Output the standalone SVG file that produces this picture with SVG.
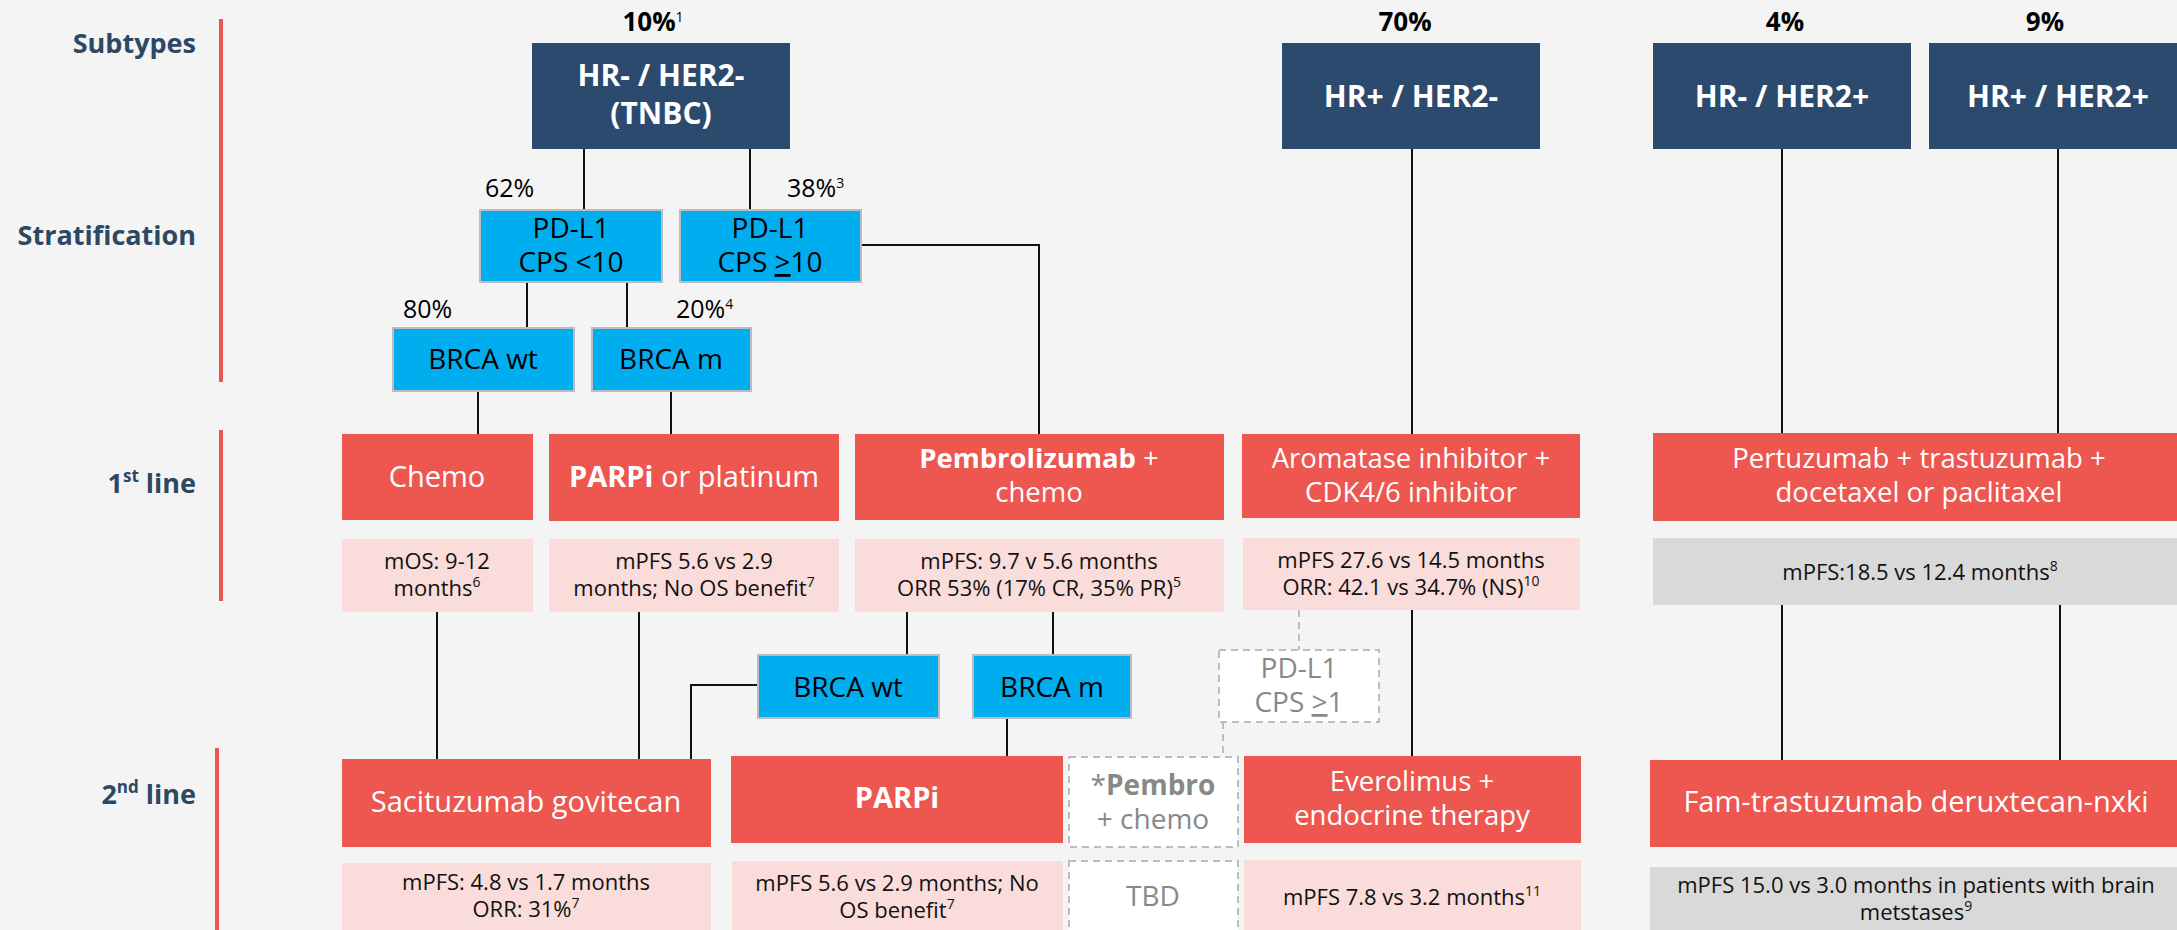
<svg xmlns="http://www.w3.org/2000/svg" width="2177" height="930" viewBox="0 0 2177 930">
<style>
text{font-family:"Open Sans","Noto Sans","Liberation Sans",sans-serif;text-anchor:middle}
.lbl{font-size:27px;font-weight:700;fill:#2c4863;text-anchor:end}
.bar{stroke:#ec5650;stroke-width:4}
.pct{font-size:26px;font-weight:700;fill:#000}
.spct{font-size:25px;fill:#000;text-anchor:start}
.navy{fill:#2b4a6e}
.navyt{font-size:30px;font-weight:700;fill:#fff}
.cyan{fill:#00aeef;stroke:#bcbcbc;stroke-width:2}
.cyant{font-size:28px;fill:#000}
.coral{fill:#ee5650}
.coralt{font-size:29px;fill:#fff}
.coral2{font-size:27.5px;fill:#fff}
.pink{fill:#fadcda}
.grey{fill:#d9d9d9}
.smt{font-size:22px;fill:#111}
.dash{fill:#fff;stroke:#bdbdbd;stroke-width:2;stroke-dasharray:7 5}
.dasht{font-size:28px;fill:#888}
.con{stroke:#111;stroke-width:2;fill:none}
.dcon{stroke:#bdbdbd;stroke-width:2;fill:none;stroke-dasharray:7 5}
.b{font-weight:700}
.sup{font-size:14px}
</style>
<rect width="2177" height="930" fill="#f4f4f4"/>

<g id="row-labels">
  <line class="bar" x1="221" y1="19" x2="221" y2="250"/>
  <text class="lbl" x="196" y="53">Subtypes</text>
  <line class="bar" x1="221" y1="217" x2="221" y2="382"/>
  <text class="lbl" x="196" y="245">Stratification</text>
  <line class="bar" x1="221" y1="430" x2="221" y2="601"/>
  <text class="lbl" x="196" y="493">1<tspan font-size="17" baseline-shift="super">st</tspan> line</text>
  <line class="bar" x1="217" y1="748" x2="217" y2="935"/>
  <text class="lbl" x="196" y="804">2<tspan font-size="17" baseline-shift="super">nd</tspan> line</text>
</g>

<g id="connectors">
  <line class="con" x1="584" y1="149" x2="584" y2="210"/>
  <line class="con" x1="750" y1="149" x2="750" y2="210"/>
  <line class="con" x1="527" y1="282" x2="527" y2="328"/>
  <line class="con" x1="627" y1="282" x2="627" y2="328"/>
  <line class="con" x1="478" y1="391" x2="478" y2="434"/>
  <line class="con" x1="671" y1="391" x2="671" y2="434"/>
  <path class="con" d="M861 245 H1039 V434"/>
  <line class="con" x1="1412" y1="149" x2="1412" y2="434"/>
  <line class="con" x1="1782" y1="149" x2="1782" y2="433"/>
  <line class="con" x1="2058" y1="149" x2="2058" y2="433"/>
  <line class="con" x1="437" y1="612" x2="437" y2="759"/>
  <line class="con" x1="639" y1="612" x2="639" y2="759"/>
  <path class="con" d="M758 685 H691 V759"/>
  <line class="con" x1="907" y1="612" x2="907" y2="655"/>
  <line class="con" x1="1053" y1="612" x2="1053" y2="655"/>
  <line class="con" x1="1007" y1="718" x2="1007" y2="756"/>
  <line class="con" x1="1412" y1="610" x2="1412" y2="756"/>
  <line class="dcon" x1="1299" y1="610" x2="1299" y2="650"/>
  <line class="dcon" x1="1223" y1="722" x2="1223" y2="757"/>
  <line class="con" x1="1782" y1="605" x2="1782" y2="760"/>
  <line class="con" x1="2060" y1="605" x2="2060" y2="760"/>
</g>

<g id="pct-labels">
  <text class="pct" x="653" y="31">10%<tspan class="sup" baseline-shift="super" font-weight="400">1</tspan></text>
  <text class="pct" x="1405" y="31">70%</text>
  <text class="pct" x="1785" y="31">4%</text>
  <text class="pct" x="2045" y="31">9%</text>
  <text class="spct" x="485" y="197">62%</text>
  <text class="spct" x="787" y="197">38%<tspan class="sup" baseline-shift="super">3</tspan></text>
  <text class="spct" x="403" y="318">80%</text>
  <text class="spct" x="676" y="318">20%<tspan class="sup" baseline-shift="super">4</tspan></text>
</g>

<g id="tnbc"><rect class="navy" x="532" y="43" width="258" height="106"/>
  <text class="navyt" x="661" y="86">HR- / HER2-<tspan x="661" dy="37.5">(TNBC)</tspan></text></g>
<g id="hrp-her2n"><rect class="navy" x="1282" y="43" width="258" height="106"/>
  <text class="navyt" x="1411" y="107">HR+ / HER2-</text></g>
<g id="hrn-her2p"><rect class="navy" x="1653" y="43" width="258" height="106"/>
  <text class="navyt" x="1782" y="107">HR- / HER2+</text></g>
<g id="hrp-her2p"><rect class="navy" x="1929" y="43" width="258" height="106"/>
  <text class="navyt" x="2058" y="107">HR+ / HER2+</text></g>

<g id="cps-lt10"><rect class="cyan" x="480" y="210" width="182" height="72"/>
  <text class="cyant" x="571" y="238">PD-L1<tspan x="571" dy="34">CPS &lt;10</tspan></text></g>
<g id="cps-ge10"><rect class="cyan" x="680" y="210" width="181" height="72"/>
  <text class="cyant" x="770" y="238">PD-L1<tspan x="770" dy="34">CPS </tspan><tspan text-decoration="underline">&gt;</tspan>10</text></g>
<g id="brca-wt"><rect class="cyan" x="393" y="328" width="181" height="63"/>
  <text class="cyant" x="483" y="369">BRCA wt</text></g>
<g id="brca-m"><rect class="cyan" x="592" y="328" width="159" height="63"/>
  <text class="cyant" x="671" y="369">BRCA m</text></g>

<g id="chemo"><rect class="coral" x="342" y="434" width="191" height="86"/>
  <text class="coralt" x="437" y="487">Chemo</text></g>
<g id="parpi-plat"><rect class="coral" x="549" y="434" width="290" height="87"/>
  <text class="coralt" x="694" y="487"><tspan class="b">PARPi</tspan> or platinum</text></g>
<g id="pembro-chemo"><rect class="coral" x="855" y="434" width="369" height="86"/>
  <text class="coral2" x="1039" y="468"><tspan class="b">Pembrolizumab</tspan> +<tspan x="1039" dy="33.5">chemo</tspan></text></g>
<g id="ai-cdk"><rect class="coral" x="1242" y="434" width="338" height="84"/>
  <text class="coral2" x="1411" y="468">Aromatase inhibitor +<tspan x="1411" dy="33.5">CDK4/6 inhibitor</tspan></text></g>
<g id="pertuzumab"><rect class="coral" x="1653" y="433" width="534" height="88"/>
  <text class="coral2" x="1919" y="468">Pertuzumab + trastuzumab +<tspan x="1919" dy="33.5">docetaxel or paclitaxel</tspan></text></g>

<g id="res-chemo"><rect class="pink" x="342" y="539" width="191" height="73"/>
  <text class="smt" x="437" y="569">mOS: 9-12<tspan x="437" dy="27">months</tspan><tspan class="sup" baseline-shift="super">6</tspan></text></g>
<g id="res-parpi"><rect class="pink" x="549" y="539" width="290" height="73"/>
  <text class="smt" x="694" y="569">mPFS 5.6 vs 2.9<tspan x="694" dy="27">months; No OS benefit</tspan><tspan class="sup" baseline-shift="super">7</tspan></text></g>
<g id="res-pembro"><rect class="pink" x="855" y="539" width="369" height="73"/>
  <text class="smt" x="1039" y="569">mPFS: 9.7 v 5.6 months<tspan x="1039" dy="27">ORR 53% (17% CR, 35% PR)</tspan><tspan class="sup" baseline-shift="super">5</tspan></text></g>
<g id="res-ai"><rect class="pink" x="1243" y="538" width="337" height="72"/>
  <text class="smt" x="1411" y="568">mPFS 27.6 vs 14.5 months<tspan x="1411" dy="27">ORR: 42.1 vs 34.7% (NS)</tspan><tspan class="sup" baseline-shift="super">10</tspan></text></g>
<g id="res-pertuzumab"><rect class="grey" x="1653" y="538" width="534" height="67"/>
  <text class="smt" x="1920" y="580">mPFS:18.5 vs 12.4 months<tspan class="sup" baseline-shift="super">8</tspan></text></g>

<g id="brca-wt-2"><rect class="cyan" x="758" y="655" width="181" height="63"/>
  <text class="cyant" x="848" y="697">BRCA wt</text></g>
<g id="brca-m-2"><rect class="cyan" x="973" y="655" width="158" height="63"/>
  <text class="cyant" x="1052" y="697">BRCA m</text></g>
<g id="cps-ge1"><rect class="dash" x="1219" y="650" width="160" height="72"/>
  <text class="dasht" x="1299" y="678">PD-L1<tspan x="1299" dy="34">CPS </tspan><tspan text-decoration="underline">&gt;</tspan>1</text></g>

<g id="sacituzumab"><rect class="coral" x="342" y="759" width="369" height="88"/>
  <text class="coralt" x="526" y="812">Sacituzumab govitecan</text></g>
<g id="parpi-2"><rect class="coral" x="731" y="756" width="332" height="87"/>
  <text class="coralt b" x="897" y="808">PARPi</text></g>
<g id="pembro-chemo-2"><rect class="dash" x="1069" y="757" width="169" height="90"/>
  <text class="dasht" x="1153" y="795">*<tspan class="b">Pembro</tspan><tspan x="1153" dy="34">+ chemo</tspan></text></g>
<g id="everolimus"><rect class="coral" x="1244" y="756" width="337" height="87"/>
  <text class="coral2" x="1412" y="791">Everolimus +<tspan x="1412" dy="33.5">endocrine therapy</tspan></text></g>
<g id="fam-trastuzumab"><rect class="coral" x="1650" y="760" width="537" height="87"/>
  <text class="coralt" x="1916" y="812">Fam-trastuzumab deruxtecan-nxki</text></g>

<g id="res-sacituzumab"><rect class="pink" x="342" y="863" width="369" height="75"/>
  <text class="smt" x="526" y="890">mPFS: 4.8 vs 1.7 months<tspan x="526" dy="27">ORR: 31%</tspan><tspan class="sup" baseline-shift="super">7</tspan></text></g>
<g id="res-parpi-2"><rect class="pink" x="732" y="861" width="331" height="77"/>
  <text class="smt" x="897" y="891">mPFS 5.6 vs 2.9 months; No<tspan x="897" dy="27">OS benefit</tspan><tspan class="sup" baseline-shift="super">7</tspan></text></g>
<g id="res-tbd"><rect class="dash" x="1069" y="861" width="169" height="80"/>
  <text class="dasht" x="1153" y="906">TBD</text></g>
<g id="res-everolimus"><rect class="pink" x="1244" y="860" width="337" height="78"/>
  <text class="smt" x="1412" y="905">mPFS 7.8 vs 3.2 months<tspan class="sup" baseline-shift="super">11</tspan></text></g>
<g id="res-fam"><rect class="grey" x="1650" y="867" width="537" height="71"/>
  <text class="smt" x="1916" y="893">mPFS 15.0 vs 3.0 months in patients with brain<tspan x="1916" dy="27">metstases</tspan><tspan class="sup" baseline-shift="super">9</tspan></text></g>
</svg>
